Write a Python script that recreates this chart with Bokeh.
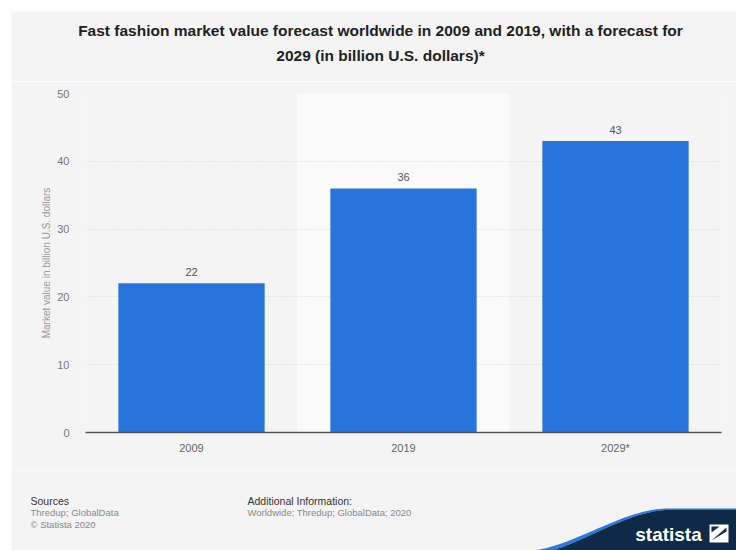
import numpy as np
from bokeh.plotting import figure
from bokeh.layouts import column
from bokeh.models import FactorRange, Range1d, FixedTicker, ColumnDataSource
from bokeh.core.properties import value
from bokeh.embed import file_html
from bokeh.resources import INLINE

# ---- data ----
categories = ["2009", "2019", "2029*"]
values = [22, 36, 43]
y_ticks = [0, 10, 20, 30, 40, 50]
title_lines = [
    "Fast fashion market value forecast worldwide in 2009 and 2019, with a forecast for",
    "2029 (in billion U.S. dollars)*",
]
y_label = "Market value in billion U.S. dollars"

FONT = "Liberation Sans"
BG = "#f4f4f4"
BAR = "#2775dc"
NAVY = "#0e2a46"


def deco_fig(h, y0, y1, margin):
    d = figure(width=725, height=h, x_range=Range1d(11, 736), y_range=Range1d(y1, y0),
               output_backend="svg", toolbar_location=None, min_border=0)
    d.margin = margin
    d.axis.visible = False
    d.grid.visible = False
    d.outline_line_color = None
    d.background_fill_color = BG
    d.border_fill_color = BG
    return d


# ---- title figure (page coords) ----
t = deco_fig(70, 11, 81, (11, 0, 0, 11))
t.text(x=[380, 380], y=[30, 55], text=title_lines, text_font=value(FONT),
       text_font_style="bold", text_font_size="15.5px", text_color="#222222",
       text_align="center", text_baseline="middle")

# ---- main chart ----
p = figure(width=725, height=389, x_range=FactorRange(*categories), y_range=Range1d(0, 50),
           output_backend="svg", toolbar_location=None,
           min_border_left=74, min_border_right=15, min_border_top=12, min_border_bottom=38)
p.margin = (0, 0, 0, 11)
p.background_fill_color = BG
p.border_fill_color = BG
p.outline_line_color = None

band = p.vbar(x=[categories[1]], top=[y_ticks[-1]], bottom=[0], width=1.0,
              fill_color="#fafafa", line_color=None)
band.level = "image"

src = ColumnDataSource(dict(x=categories, top=values, lab=[str(v) for v in values]))
p.vbar(x="x", top="top", width=0.69, source=src, fill_color=BAR, line_color=None)
p.text(x="x", y="top", text="lab", source=src, y_offset=-7, text_align="center",
       text_baseline="bottom", text_font=value(FONT), text_font_size="11px",
       text_color="#555555")

p.xgrid.visible = False
p.ygrid.grid_line_color = "#d9d9d9"
p.ygrid.grid_line_dash = "1 2"
p.ygrid.ticker = FixedTicker(ticks=y_ticks)

p.yaxis.ticker = FixedTicker(ticks=y_ticks)
p.yaxis.axis_line_color = None
p.yaxis.major_tick_line_color = None
p.yaxis.minor_tick_line_color = None
p.yaxis.major_label_text_font = FONT
p.yaxis.major_label_text_font_size = "11px"
p.yaxis.major_label_text_color = "#777777"
p.yaxis.major_label_standoff = 10
p.yaxis.axis_label = y_label
p.yaxis.axis_label_text_font = FONT
p.yaxis.axis_label_text_font_size = "10px"
p.yaxis.axis_label_text_font_style = "normal"
p.yaxis.axis_label_text_color = "#999999"
p.yaxis.axis_label_standoff = 2

p.xaxis.axis_line_color = "#555555"
p.xaxis.axis_line_width = 1.5
p.xaxis.major_tick_line_color = None
p.xaxis.minor_tick_line_color = None
p.xaxis.major_label_text_font = FONT
p.xaxis.major_label_text_font_size = "11px"
p.xaxis.major_label_text_color = "#666666"
p.xaxis.major_label_standoff = 3

# ---- footer figure (page coords) ----
f = deco_fig(80, 470, 550, (0, 0, 0, 11))
f.text(x=[30, 247], y=[500, 500], text=["Sources", "Additional Information:"],
       text_font=value(FONT), text_font_size="10.5px", text_color="#333333",
       text_baseline="middle")
f.text(x=[30, 30, 247], y=[512, 524, 512],
       text=["Thredup; GlobalData", "\u00a9 Statista 2020", "Worldwide; Thredup; GlobalData; 2020"],
       text_font=value(FONT), text_font_size="9.5px", text_color="#8a8a8a",
       text_baseline="middle")

# statista logo wave (decoration)
x0, x1 = 520, 668
xs = np.linspace(x0, x1, 50)
tt = (xs - x0) / (x1 - x0)
s = tt * tt * (3 - 2 * tt)
curve_top = 551 - (551 - 508) * s
thick = 5.0 - 3.5 * tt
blue_bot = np.minimum(curve_top + thick, 551)
f.patch(list(xs) + [737, 737] + list(xs[::-1]),
        list(curve_top) + [508, 509.5] + list(blue_bot[::-1]),
        fill_color="#2a78e0", line_color=None)
f.patch(list(xs) + [737, 737], list(blue_bot) + [509.5, 551],
        fill_color=NAVY, line_color=None)
f.text(x=[668], y=[534], text=["statista"], text_font=value(FONT), text_font_style="bold",
       text_font_size="19px", text_color="#ffffff", text_align="center",
       text_baseline="middle")
f.quad(left=[709], right=[728], top=[524], bottom=[542], fill_color="#ffffff", line_color=None)
f.patch([711, 726, 726, 711], [540, 527, 531, 540], fill_color=NAVY, line_color=None)
f.patch([711, 719, 711], [526, 526, 532], fill_color=NAVY, line_color=None)

layout = column(t, column(p, spacing=0), f, spacing=0)

open("out.html", "w").write(file_html(layout, INLINE))
